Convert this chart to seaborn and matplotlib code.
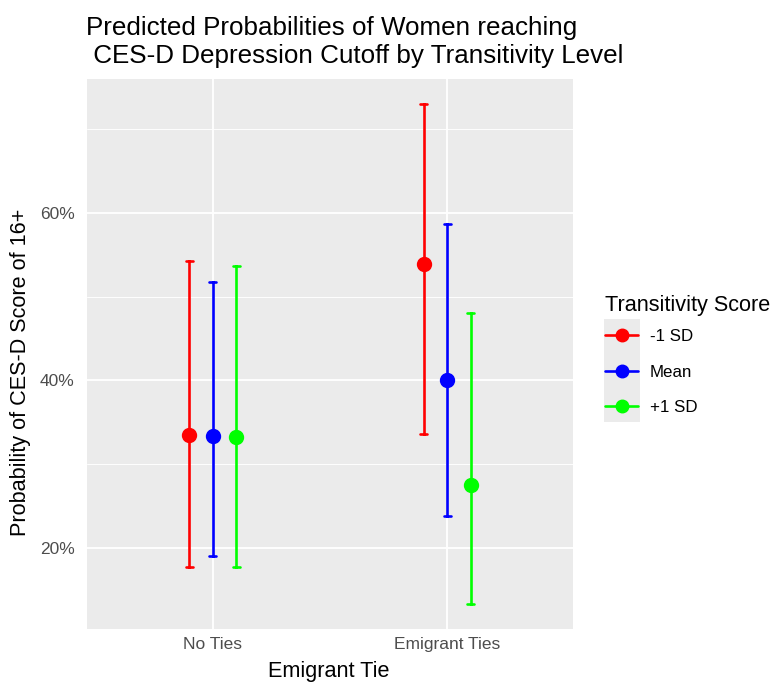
import matplotlib
matplotlib.use("Agg")
import matplotlib.pyplot as plt
from matplotlib.lines import Line2D
from matplotlib.patches import Rectangle
from matplotlib.ticker import FuncFormatter, FixedLocator
import seaborn as sns
import pandas as pd

# ---- data (percent) ----
groups = ["No Ties", "Emigrant Ties"]
levels = ["-1 SD", "Mean", "+1 SD"]
est_no = [33.5, 33.4, 33.25]
lo_no = [17.7, 19.0, 17.7]
hi_no = [54.3, 51.7, 53.65]
est_em = [53.9, 40.0, 27.5]
lo_em = [33.6, 23.8, 13.3]
hi_em = [73.0, 58.7, 48.1]
colors = ["#FF0000", "#0000FF", "#00FF00"]
y_ticks = [20, 40, 60]
y_minor = [30, 50, 70]
title_lines = ["Predicted Probabilities of Women reaching",
               " CES-D Depression Cutoff by Transitivity Level"]

rows = []
for g, est, lo, hi in [(groups[0], est_no, lo_no, hi_no), (groups[1], est_em, lo_em, hi_em)]:
    for lev, e, l, h in zip(levels, est, lo, hi):
        for v in (l, e, h):
            rows.append({"tie": g, "level": lev, "value": v})
df = pd.DataFrame(rows)

sns.set_theme(style="darkgrid")
plt.rcParams["font.family"] = ["Liberation Sans", "DejaVu Sans"]

W, H = 777, 682
def fx(px):
    return px / W
def fy(py):
    return 1 - py / H

fig = plt.figure(figsize=(W / 100, H / 100), dpi=100)
ax = fig.add_axes([fx(87), fy(629), 486 / W, 550 / H])
ax.set_facecolor("#EBEBEB")

sns.pointplot(data=df, x="tie", y="value", hue="level", order=groups, hue_order=levels,
              palette=colors, estimator="median", errorbar=("pi", 100), dodge=0.2,
              linestyle="none", markers="o", markersize=9, capsize=0.03,
              err_kws={"linewidth": 1.9}, legend=False, ax=ax)

allv = lo_no + lo_em + hi_no + hi_em
lo, hi = min(allv), max(allv)
pad = (hi - lo) * 0.05
ax.set_ylim(lo - pad, hi + pad)
ax.set_xlim(-0.535, 1.535)

ax.yaxis.set_major_locator(FixedLocator(y_ticks))
ax.yaxis.set_minor_locator(FixedLocator(y_minor))
ax.yaxis.set_major_formatter(FuncFormatter(lambda v, p: f"{v:.0f}%"))
ax.grid(which="major", color="white", linewidth=1.3)
ax.grid(which="minor", axis="y", color="white", linewidth=0.65)
ax.set_axisbelow(True)
for s in ax.spines.values():
    s.set_visible(False)
ax.tick_params(axis="both", which="major", length=4.8, width=1.0, color="#333333",
               labelsize=12.5, labelcolor="#4D4D4D")
ax.tick_params(axis="x", which="major", pad=1.3)
ax.tick_params(axis="y", which="major", pad=4.0)
ax.tick_params(axis="y", which="minor", length=0)
ax.set_xlabel("")
ax.set_ylabel("")

fig.text(fx(20.7), fy(372), "Probability of CES-D Score of 16+", rotation=90,
         ha="center", va="center", fontsize=15.6, color="black")
fig.text(fx(329), fy(676.7), "Emigrant Tie", ha="center", va="baseline",
         fontsize=15.6, color="black")
fig.text(fx(86.5), fy(35), title_lines[0], ha="left", va="baseline",
         fontsize=18.7, color="black")
fig.text(fx(86.5), fy(63.3), title_lines[1], ha="left", va="baseline",
         fontsize=18.7, color="black")

# legend (drawn in figure pixel positions)
fig.patches.append(Rectangle((fx(603.5), fy(421.7)), 36.5 / W, 102.4 / H,
                             transform=fig.transFigure, facecolor="#EBEBEB",
                             edgecolor="none", zorder=0))
fig.text(fx(605), fy(311.5), "Transitivity Score", ha="left", va="baseline",
         fontsize=15.6, color="black")
key_y = [335, 370.7, 406]
for lab, c, yy in zip(levels, colors, key_y):
    fig.add_artist(Line2D([fx(605), fx(638)], [fy(yy), fy(yy)], color=c, linewidth=1.9,
                          transform=fig.transFigure))
    fig.add_artist(Line2D([fx(621.5)], [fy(yy)], color=c, marker="o", markersize=9,
                          linestyle="none", transform=fig.transFigure))
    fig.text(fx(650), fy(yy + 6.1), lab, ha="left", va="baseline", fontsize=12.2,
             color="black")

fig.savefig("out.png", dpi=100)
